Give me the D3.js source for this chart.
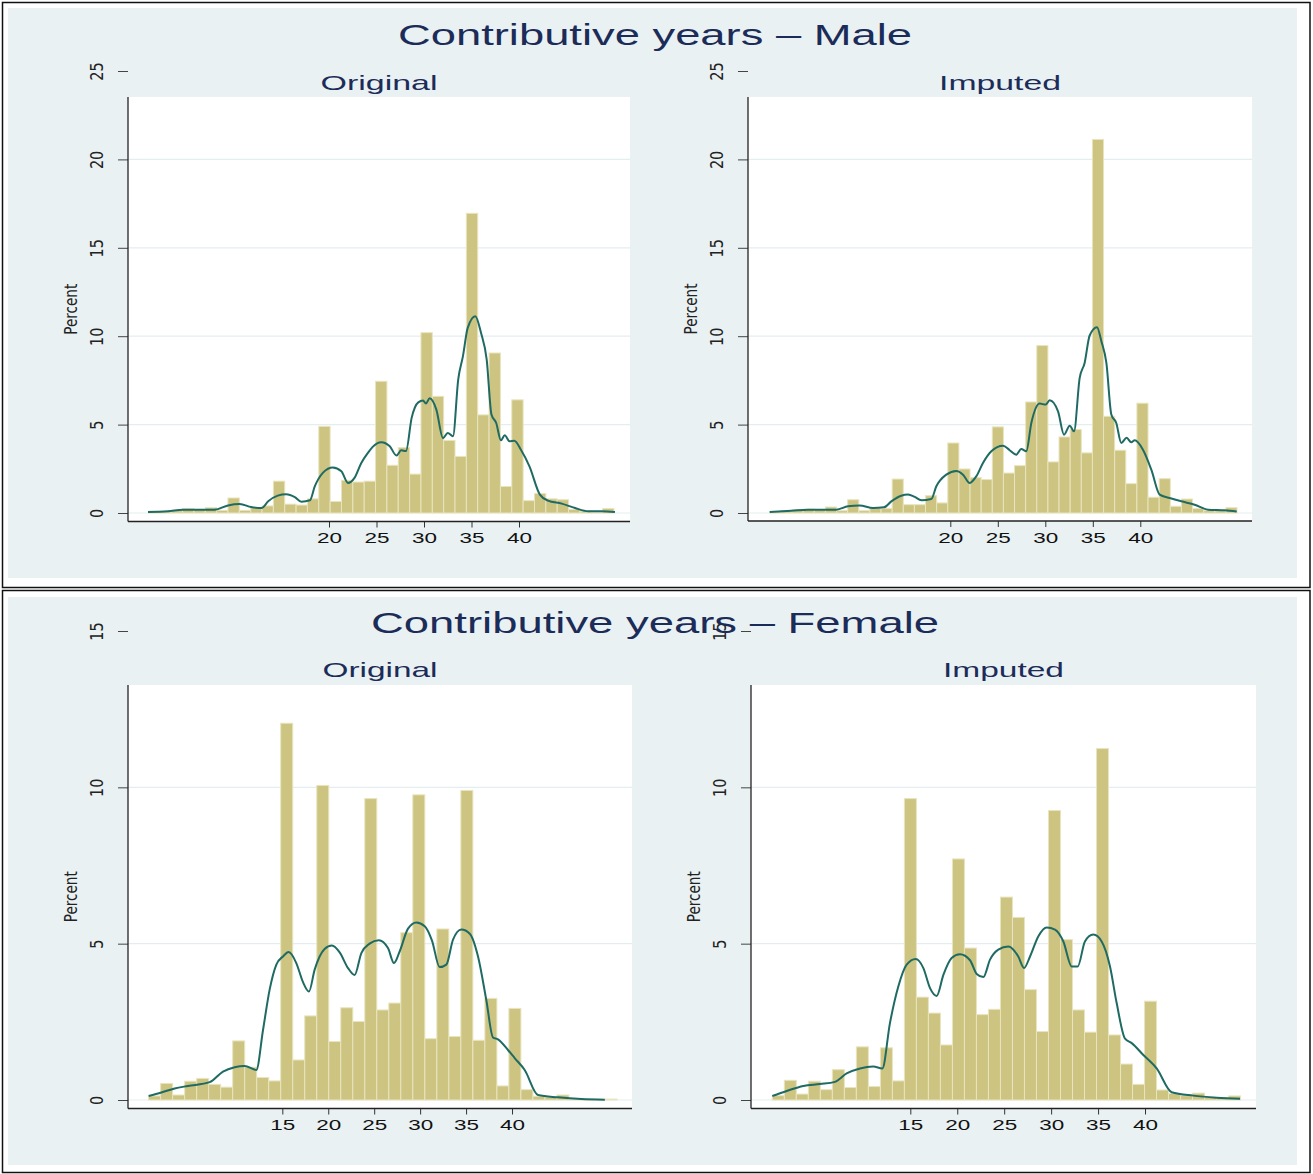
<!DOCTYPE html>
<html>
<head>
<meta charset="utf-8">
<script src="https://cdn.jsdelivr.net/npm/d3@7"></script>
<style>
  body { margin: 0; background: #fff; }
  svg { display: block; font-family: "Liberation Sans", Arial, sans-serif; }
</style>
</head>
<body>
<script>
// histogram bins (percent), bins are in years: start + i * width
const maleOriginalPct = [0.1, 0.1, 0.13, 0.25, 0.2, 0.3, 0.15, 0.85, 0.15, 0.3, 0.4, 1.8, 0.5, 0.45, 0.8, 4.9, 0.65, 1.85, 1.75, 1.8, 7.45, 2.7, 3.7, 2.2, 10.2, 6.6, 4.1, 3.2, 16.95, 5.55, 9.05, 1.5, 6.4, 0.7, 1.1, 0.8, 0.75, 0.2, 0.1, 0.05, 0.25];
const maleImputedPct = [0.08, 0.13, 0.17, 0.22, 0.19, 0.34, 0.13, 0.75, 0.13, 0.28, 0.25, 1.92, 0.47, 0.47, 0.98, 0.57, 3.96, 2.49, 2.0, 1.89, 4.87, 2.26, 2.68, 6.28, 9.47, 2.89, 4.3, 4.72, 3.4, 21.13, 5.47, 3.55, 1.66, 6.21, 0.89, 1.94, 0.38, 0.79, 0.25, 0.13, 0.13, 0.3];
const femaleOriginalPct = [0.13, 0.53, 0.16, 0.6, 0.69, 0.5, 0.41, 1.89, 1.05, 0.72, 0.61, 12.05, 1.28, 2.69, 10.06, 1.87, 2.95, 2.51, 9.64, 2.88, 3.1, 5.35, 9.76, 1.96, 5.47, 2.03, 9.9, 1.91, 3.25, 0.45, 2.93, 0.33, 0.12, 0.09, 0.16, 0.03, 0.02, 0.02, 0.03];
const femaleImputedPct = [0.14, 0.63, 0.19, 0.6, 0.33, 0.97, 0.4, 1.7, 0.43, 1.67, 0.61, 9.64, 3.29, 2.78, 1.76, 7.71, 4.86, 2.73, 2.9, 6.49, 5.84, 3.53, 2.19, 9.26, 5.13, 2.88, 2.17, 11.24, 2.08, 1.15, 0.5, 3.16, 0.32, 0.21, 0.14, 0.22, 0.085, 0.075, 0.13];

const maleOriginalBins = [1, 1.195];
const maleImputedBins = [1, 1.171];
const femaleOriginalBins = [0.45, 1.307];
const femaleImputedBins = [0.3, 1.279];

// kernel density curves: [years, percent]
const maleOriginalDensity = [[0.95,0.06],[3.05,0.1],[4.63,0.19],[7.96,0.19],[9.37,0.43],[10.6,0.51],[11.8,0.34],[12.9,0.28],[13.6,0.66],[14.6,0.98],[15.5,1.06],[16.4,0.9],[17.1,0.64],[18.0,0.72],[18.5,1.5],[19.4,2.3],[20.4,2.58],[21.3,2.36],[22.0,1.7],[22.7,2.0],[23.4,2.83],[24.1,3.4],[24.6,3.74],[25.5,4.0],[26.4,3.77],[27.1,3.25],[27.6,3.55],[28.1,3.5],[28.7,5.38],[29.4,6.26],[29.9,6.36],[30.2,6.19],[30.6,6.49],[31.3,5.85],[32.0,4.23],[32.5,4.53],[33.05,4.34],[33.6,7.55],[34.1,8.87],[34.6,10.47],[35.4,11.13],[36.0,10.19],[36.6,8.68],[37.1,5.57],[37.6,5.09],[38.1,4.11],[38.5,4.4],[39.0,4.06],[39.5,4.08],[40.2,3.58],[41.1,2.64],[42.2,1.04],[43.05,0.7],[44.5,0.53],[45.9,0.28],[47.3,0.1],[48.7,0.1],[50.1,0.06]];
const maleImputedDensity = [[0.99,0.06],[3.27,0.13],[5.02,0.19],[8.0,0.19],[9.23,0.38],[10.46,0.43],[11.86,0.28],[13.02,0.32],[13.79,0.66],[14.84,0.98],[15.55,1.04],[16.25,0.91],[16.95,0.72],[18.0,0.79],[18.53,1.51],[19.58,2.17],[20.63,2.38],[21.34,2.17],[22.04,1.7],[22.74,2.08],[23.44,2.83],[24.32,3.49],[25.55,3.81],[26.25,3.55],[26.95,3.3],[27.47,3.62],[28.0,3.49],[28.53,5.09],[29.41,6.19],[30.04,6.13],[30.46,6.38],[31.34,5.75],[31.97,4.43],[32.57,4.94],[33.02,4.62],[33.62,7.64],[34.14,8.49],[34.67,10.04],[35.44,10.51],[35.9,9.72],[36.43,8.49],[36.95,5.57],[37.47,5.09],[38.0,3.96],[38.56,4.25],[39.05,4.0],[39.41,4.11],[40.28,3.58],[41.16,2.45],[42.04,1.04],[43.09,0.85],[44.32,0.66],[45.72,0.47],[47.13,0.19],[48.88,0.15],[50.15,0.09]];
const femaleOriginalDensity = [[0.45,0.13],[1.83,0.24],[3.28,0.37],[4.73,0.45],[7.09,0.57],[8.54,0.91],[9.81,1.05],[10.9,1.09],[12.17,0.96],[12.9,2.24],[13.62,3.53],[14.35,4.33],[15.07,4.59],[15.69,4.73],[16.52,4.38],[17.25,3.77],[17.9,3.47],[18.52,4.17],[19.6,4.83],[20.4,4.94],[21.24,4.72],[22.15,4.22],[22.87,4.0],[23.6,4.7],[24.5,5.0],[25.49,5.11],[26.5,4.86],[27.15,4.38],[27.77,4.75],[28.68,5.48],[29.58,5.68],[30.5,5.56],[31.29,5.1],[32.12,4.25],[32.85,4.33],[33.58,5.13],[34.49,5.45],[35.4,5.32],[36.3,4.59],[37.2,3.2],[37.93,2.0],[38.47,1.94],[39.56,1.6],[40.29,1.34],[41.38,0.96],[42.83,0.16],[45.0,0.085],[47.55,0.03],[50.1,0.01]];
const femaleImputedDensity = [[0.3,0.13],[1.83,0.29],[3.6,0.45],[5.38,0.51],[6.97,0.58],[8.22,0.85],[9.64,1.01],[11.06,1.07],[12.02,1.01],[12.83,2.46],[13.72,3.63],[14.61,4.33],[15.57,4.51],[16.39,4.22],[17.1,3.58],[17.81,3.33],[18.52,4.0],[19.4,4.54],[20.29,4.66],[21.36,4.47],[22.07,4.03],[22.78,3.93],[23.49,4.49],[24.37,4.81],[25.44,4.91],[26.5,4.59],[27.11,4.22],[27.75,4.59],[28.64,5.24],[29.53,5.52],[30.41,5.45],[31.3,5.07],[32.19,4.27],[32.83,4.27],[33.6,5.07],[34.49,5.29],[35.38,5.07],[36.27,4.27],[36.98,3.1],[37.87,1.96],[38.58,1.82],[39.82,1.44],[41.24,1.01],[42.84,0.25],[45.14,0.14],[47.64,0.075],[50.12,0.04]];

const maleXTicks = [20, 25, 30, 35, 40];
const femaleXTicks = [15, 20, 25, 30, 35, 40];
const maleYTicks = [0, 5, 10, 15, 20, 25];
const femaleYTicks = [0, 5, 10, 15];

const groupTitles = ["Contributive years \u2013 Male", "Contributive years \u2013 Female"];
const panelTitles = ["Original", "Imputed"];

const barColor = "#ccc480";
const barEdge = "#e9e4bf";
const lineColor = "#1f6a63";
const titleColor = "#1c2c58";
const regionColor = "#eaf1f3";

const svg = d3.select("body").append("svg")
  .attr("width", 1313)
  .attr("height", 1174);

// two framed graph regions
const frames = [
  { top: 2, bottom: 587, innerTop: 8, innerBottom: 578, title: groupTitles[0], titleY: 45, titleLen: 514 },
  { top: 590, bottom: 1172, innerTop: 597, innerBottom: 1165, title: groupTitles[1], titleY: 633, titleLen: 568 },
];

frames.forEach((f) => {
  svg.append("rect")
    .attr("x", 2.5).attr("y", f.top + 0.5)
    .attr("width", 1307.5).attr("height", f.bottom - f.top)
    .attr("fill", "#fff").attr("stroke", "#111").attr("stroke-width", 1.5);
  svg.append("rect")
    .attr("x", 8).attr("y", f.innerTop)
    .attr("width", 1289).attr("height", f.innerBottom - f.innerTop)
    .attr("fill", regionColor);
});

const panels = [
  { values: maleOriginalPct, bins: maleOriginalBins, density: maleOriginalDensity, xTicks: maleXTicks, yTicks: maleYTicks,
    left: 128, right: 630, top: 97, bottom: 521.5, xRange: [139, 614], yRange: [513, 71], yMax: 25,
    title: panelTitles[0], titleY: 90, titleLen: 117 },
  { values: maleImputedPct, bins: maleImputedBins, density: maleImputedDensity, xTicks: maleXTicks, yTicks: maleYTicks,
    left: 748, right: 1252, top: 97, bottom: 521, xRange: [760.3, 1235.3], yRange: [513, 71], yMax: 25,
    title: panelTitles[1], titleY: 90, titleLen: 122 },
  { values: femaleOriginalPct, bins: femaleOriginalBins, density: femaleOriginalDensity, xTicks: femaleXTicks, yTicks: femaleYTicks,
    left: 128, right: 632, top: 685, bottom: 1108.5, xRange: [144.5, 603.9], yRange: [1100, 631], yMax: 15,
    title: panelTitles[0], titleY: 677, titleLen: 115 },
  { values: femaleImputedPct, bins: femaleImputedBins, density: femaleImputedDensity, xTicks: femaleXTicks, yTicks: femaleYTicks,
    left: 751, right: 1256, top: 685, bottom: 1108.5, xRange: [769.5, 1238.9], yRange: [1100, 631], yMax: 15,
    title: panelTitles[1], titleY: 677, titleLen: 121 },
];

panels.forEach((p, idx) => drawPanel(svg.append("g").attr("class", "panel-" + idx), p));

// group titles drawn after panels (the female one overlaps a tick label)
frames.forEach((f) => {
  svg.append("text")
    .attr("x", 655).attr("y", f.titleY)
    .attr("text-anchor", "middle")
    .attr("font-size", 29)
    .attr("fill", titleColor)
    .attr("textLength", f.titleLen)
    .attr("lengthAdjust", "spacingAndGlyphs")
    .text(f.title);
});

function drawPanel(g, p) {
  const x = d3.scaleLinear().domain([0, 50]).range(p.xRange);
  const y = d3.scaleLinear().domain([0, p.yMax]).range(p.yRange);
  const [start, width] = p.bins;

  g.append("rect")
    .attr("x", p.left).attr("y", p.top)
    .attr("width", p.right - p.left).attr("height", p.bottom - p.top)
    .attr("fill", "#fff");

  // grid lines inside the plot region
  g.append("g")
    .selectAll("line")
    .data(p.yTicks.filter((t) => y(t) > p.top))
    .join("line")
    .attr("x1", p.left).attr("x2", p.right)
    .attr("y1", (d) => y(d)).attr("y2", (d) => y(d))
    .attr("stroke", "#e4edf0")
    .attr("stroke-width", 1.2);

  g.append("g")
    .attr("fill", barColor)
    .attr("stroke", barEdge)
    .attr("stroke-width", 1)
    .selectAll("rect")
    .data(p.values)
    .join("rect")
    .attr("x", (d, i) => x(start + i * width))
    .attr("width", (d, i) => x(start + (i + 1) * width) - x(start + i * width))
    .attr("y", (d) => y(d))
    .attr("height", (d) => y(0) - y(d));

  const line = d3.line()
    .x((d) => x(d[0]))
    .y((d) => y(d[1]))
    .curve(d3.curveMonotoneX);

  g.append("path")
    .datum(p.density)
    .attr("fill", "none")
    .attr("stroke", lineColor)
    .attr("stroke-width", 2)
    .attr("d", line);

  // y axis
  const yAxis = g.append("g")
    .attr("transform", `translate(${p.left},0)`)
    .call(d3.axisLeft(y).tickValues(p.yTicks).tickSize(10).tickFormat(d3.format("d")))
    .call((a) => a.select(".domain").remove());
  yAxis.selectAll(".tick line").attr("stroke", "#444");
  yAxis.selectAll(".tick text")
    .attr("x", null).attr("dy", null)
    .attr("text-anchor", "middle")
    .attr("font-family", "'Liberation Sans Narrow', 'DejaVu Sans Condensed', 'Liberation Sans', sans-serif")
    .attr("font-size", 17)
    .attr("fill", "#222")
    .attr("textLength", (d) => String(d).length * 9.2)
    .attr("lengthAdjust", "spacingAndGlyphs")
    .attr("transform", "translate(-25,0) rotate(-90)");

  g.append("line")
    .attr("x1", p.left).attr("x2", p.left)
    .attr("y1", p.top).attr("y2", p.bottom)
    .attr("stroke", "#222").attr("stroke-width", 1.3);

  g.append("text")
    .attr("transform", `translate(${p.left - 51},${(p.top + p.bottom) / 2}) rotate(-90)`)
    .attr("text-anchor", "middle")
    .attr("font-family", "'Liberation Sans Narrow', 'DejaVu Sans Condensed', 'Liberation Sans', sans-serif")
    .attr("font-size", 18)
    .attr("fill", "#222")
    .attr("textLength", 51)
    .attr("lengthAdjust", "spacingAndGlyphs")
    .text("Percent");

  // x axis
  const xAxis = g.append("g")
    .attr("transform", `translate(0,${p.bottom})`)
    .call(d3.axisBottom(x).tickValues(p.xTicks).tickSize(6).tickFormat(d3.format("d")))
    .call((a) => a.select(".domain").remove());
  xAxis.selectAll(".tick line").attr("stroke", "#333");
  xAxis.selectAll(".tick text")
    .attr("y", 21.5).attr("dy", null)
    .attr("font-size", 15.5)
    .attr("fill", "#111")
    .attr("textLength", 25)
    .attr("lengthAdjust", "spacingAndGlyphs");

  g.append("line")
    .attr("x1", p.left).attr("x2", p.right)
    .attr("y1", p.bottom).attr("y2", p.bottom)
    .attr("stroke", "#222").attr("stroke-width", 1.3);

  g.append("text")
    .attr("x", (p.left + p.right) / 2)
    .attr("y", p.titleY)
    .attr("text-anchor", "middle")
    .attr("font-size", 21)
    .attr("fill", titleColor)
    .attr("textLength", p.titleLen)
    .attr("lengthAdjust", "spacingAndGlyphs")
    .text(p.title);
}
</script>
</body>
</html>
